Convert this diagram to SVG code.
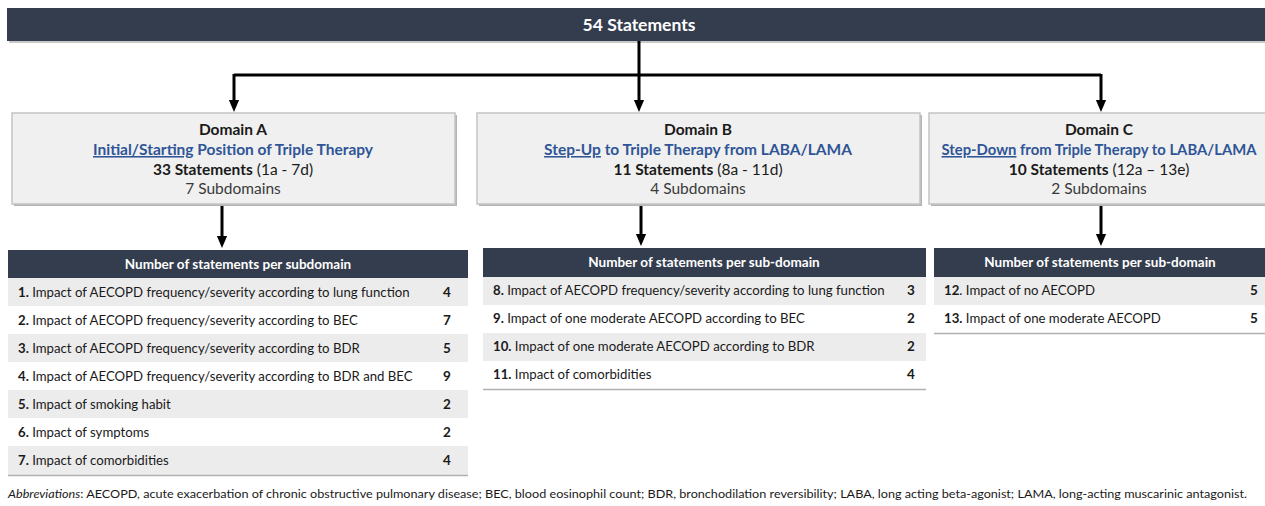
<svg xmlns="http://www.w3.org/2000/svg" width="1265" height="506" viewBox="0 0 1265 506">
<style>
text{font-family:Lato,"Open Sans","Liberation Sans",sans-serif;}
.hdr{fill:#343d4e;}
.dbox{fill:#f0f0f0;stroke:#c4c4c4;stroke-width:1.5;}
.shadow{fill:#b5b5b5;}
.dt{font-size:15.5px;fill:#1a1a1a;text-anchor:middle;}
.b{font-weight:bold;}
.blue{fill:#2f5597;font-weight:bold;}
.sub{fill:#3a3a3a;}
.th{font-size:13.5px;font-weight:bold;fill:#ffffff;text-anchor:middle;}
.rg{fill:#ececec;}
.row{font-size:13.2px;fill:#1a1a1a;}
.num{font-size:13.5px;font-weight:bold;fill:#1a1a1a;text-anchor:middle;}
.line{stroke:#000;stroke-width:3;fill:none;}
.bl{stroke:#b0b0b0;stroke-width:1.5;}
</style>
<defs>
<marker id="ah" markerWidth="4" markerHeight="4" refX="2" refY="2" orient="auto" markerUnits="strokeWidth"><path d="M0,0.3 L4,2 L0,3.7 z" fill="#000"/></marker>
</defs>
<rect width="1265" height="506" fill="#ffffff"/>

<g id="top">
<rect x="9" y="10" width="1256" height="33" fill="#c8c8c8"/>
<rect x="7" y="8" width="1258" height="33" class="hdr"/>
<text x="639" y="31" font-size="17.5" font-weight="bold" fill="#ffffff" text-anchor="middle">54 Statements</text>
</g>

<g id="connectors">
<path class="line" d="M639,41 V75 M234,75 H1101"/>
<path class="line" d="M234,74 V106" marker-end="url(#ah)"/>
<path class="line" d="M639,75 V106" marker-end="url(#ah)"/>
<path class="line" d="M1101,74 V106" marker-end="url(#ah)"/>
<path class="line" d="M222,205 V242" marker-end="url(#ah)"/>
<path class="line" d="M641,205 V240" marker-end="url(#ah)"/>
<path class="line" d="M1101,205 V240" marker-end="url(#ah)"/>
</g>

<g id="domainA">
<rect x="14" y="115" width="443" height="91" class="shadow"/>
<rect x="12" y="113" width="443" height="91" class="dbox"/>
<text class="dt b" x="233" y="135">Domain A</text>
<text class="dt" x="233" y="155"><tspan class="blue" text-decoration="underline">Initial/Starting</tspan><tspan class="blue"> Position of Triple Therapy</tspan></text>
<text class="dt" x="233" y="175"><tspan class="b">33 Statements</tspan> (1a - 7d)</text>
<text class="dt sub" x="233" y="194">7 Subdomains</text>
</g>

<g id="domainB">
<rect x="479" y="115" width="443" height="91" class="shadow"/>
<rect x="477" y="113" width="443" height="91" class="dbox"/>
<text class="dt b" x="698" y="135">Domain B</text>
<text class="dt" x="698" y="155"><tspan class="blue" text-decoration="underline">Step-Up</tspan><tspan class="blue"> to Triple Therapy from LABA/LAMA</tspan></text>
<text class="dt" x="698" y="175"><tspan class="b">11 Statements</tspan> (8a - 11d)</text>
<text class="dt sub" x="698" y="194">4 Subdomains</text>
</g>

<g id="domainC">
<rect x="931" y="115" width="336" height="91" class="shadow"/>
<rect x="929" y="113" width="340" height="91" class="dbox"/>
<text class="dt b" x="1099" y="135">Domain C</text>
<text class="dt" x="1099" y="155" textLength="315" lengthAdjust="spacingAndGlyphs"><tspan class="blue" text-decoration="underline">Step-Down</tspan><tspan class="blue"> from Triple Therapy to LABA/LAMA</tspan></text>
<text class="dt" x="1099" y="175"><tspan class="b">10 Statements</tspan> (12a – 13e)</text>
<text class="dt sub" x="1099" y="194">2 Subdomains</text>
</g>

<g id="tableA">
<rect x="8" y="250" width="460" height="28" class="hdr"/>
<text class="th" x="238" y="269">Number of statements per subdomain</text>
<rect x="8" y="278" width="460" height="28" class="rg"/>
<rect x="8" y="334" width="460" height="28" class="rg"/>
<rect x="8" y="390" width="460" height="28" class="rg"/>
<rect x="8" y="446" width="460" height="29" class="rg"/>
<line x1="8" y1="475.5" x2="468" y2="475.5" class="bl"/>
<text class="row" x="18" y="297"><tspan font-weight="bold">1.</tspan> Impact of AECOPD frequency/severity according to lung function</text>
<text class="num" x="447" y="297">4</text>
<text class="row" x="18" y="325"><tspan font-weight="bold">2.</tspan> Impact of AECOPD frequency/severity according to BEC</text>
<text class="num" x="447" y="325">7</text>
<text class="row" x="18" y="353"><tspan font-weight="bold">3.</tspan> Impact of AECOPD frequency/severity according to BDR</text>
<text class="num" x="447" y="353">5</text>
<text class="row" x="18" y="381"><tspan font-weight="bold">4.</tspan> Impact of AECOPD frequency/severity according to BDR and BEC</text>
<text class="num" x="447" y="381">9</text>
<text class="row" x="18" y="409"><tspan font-weight="bold">5.</tspan> Impact of smoking habit</text>
<text class="num" x="447" y="409">2</text>
<text class="row" x="18" y="437"><tspan font-weight="bold">6.</tspan> Impact of symptoms</text>
<text class="num" x="447" y="437">2</text>
<text class="row" x="18" y="465"><tspan font-weight="bold">7.</tspan> Impact of comorbidities</text>
<text class="num" x="447" y="465">4</text>
</g>

<g id="tableB">
<rect x="483" y="248" width="443" height="29" class="hdr"/>
<text class="th" x="704" y="267">Number of statements per sub-domain</text>
<rect x="483" y="277" width="443" height="28" class="rg"/>
<rect x="483" y="333" width="443" height="28" class="rg"/>
<line x1="483" y1="389.5" x2="926" y2="389.5" class="bl"/>
<text class="row" x="493" y="295"><tspan font-weight="bold">8.</tspan> Impact of AECOPD frequency/severity according to lung function</text>
<text class="num" x="911" y="295">3</text>
<text class="row" x="493" y="323"><tspan font-weight="bold">9.</tspan> Impact of one moderate AECOPD according to BEC</text>
<text class="num" x="911" y="323">2</text>
<text class="row" x="493" y="351"><tspan font-weight="bold">10.</tspan> Impact of one moderate AECOPD according to BDR</text>
<text class="num" x="911" y="351">2</text>
<text class="row" x="493" y="379"><tspan font-weight="bold">11.</tspan> Impact of comorbidities</text>
<text class="num" x="911" y="379">4</text>
</g>

<g id="tableC">
<rect x="934" y="248" width="331" height="29" class="hdr"/>
<text class="th" x="1100" y="267">Number of statements per sub-domain</text>
<rect x="934" y="277" width="331" height="28" class="rg"/>
<line x1="934" y1="333.5" x2="1265" y2="333.5" class="bl"/>
<text class="row" x="944" y="295"><tspan font-weight="bold">12</tspan>. Impact of no AECOPD</text>
<text class="num" x="1254" y="295">5</text>
<text class="row" x="944" y="323"><tspan font-weight="bold">13.</tspan> Impact of one moderate AECOPD</text>
<text class="num" x="1254" y="323">5</text>
</g>

<g id="footnote">
<text x="8" y="498" font-size="11.5" fill="#1a1a1a" textLength="1239" lengthAdjust="spacingAndGlyphs"><tspan font-style="italic">Abbreviations</tspan>: AECOPD, acute exacerbation of chronic obstructive pulmonary disease; BEC, blood eosinophil count; BDR, bronchodilation reversibility; LABA, long acting beta-agonist; LAMA, long-acting muscarinic antagonist.</text>
</g>
</svg>
